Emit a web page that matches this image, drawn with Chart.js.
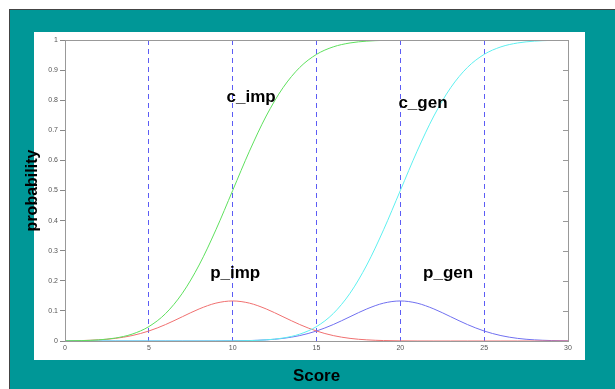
<!DOCTYPE html>
<html>
<head>
<meta charset="utf-8">
<script src="https://cdn.jsdelivr.net/npm/chart.js@4.4.1/dist/chart.umd.min.js"></script>
<style>
    html, body { margin: 0; padding: 0; background: #fff; }
    #frame {
        position: absolute; left: 9px; top: 9px; width: 605px; height: 379px;
        background: #009797; border-top: 1px solid #444; border-left: 1px solid #444;
    }
    #panel {
        position: absolute; left: 34px; top: 32px; width: 551px; height: 328px;
        background: #fff;
    }
    #wrap { position: absolute; left: 0; top: 0; width: 615px; height: 389px; }
</style>
</head>
<body>
<div id="frame"></div>
<div id="panel"></div>
<div id="wrap"><canvas id="chart" width="615" height="389"></canvas></div>
<script>
// Score axis
const scores = [0, 1, 2, 3, 4, 5, 6, 7, 8, 9, 10, 11, 12, 13, 14, 15, 16, 17, 18, 19, 20,
                21, 22, 23, 24, 25, 26, 27, 28, 29, 30];

// cumulative curves
const cImp = [0.0004, 0.0013, 0.0038, 0.0098, 0.0228, 0.0478, 0.0912, 0.1587, 0.2525, 0.3694,
              0.5, 0.6306, 0.7475, 0.8413, 0.9088, 0.9522, 0.9772, 0.9902, 0.9962, 0.9987,
              0.9996, 0.9999, 1, 1, 1, 1, 1, 1, 1, 1, 1];
const cGen = [0, 0, 0, 0, 0, 0, 0, 0, 0, 0.0001,
              0.0004, 0.0013, 0.0038, 0.0098, 0.0228, 0.0478, 0.0912, 0.1587, 0.2525, 0.3694,
              0.5, 0.6306, 0.7475, 0.8413, 0.9088, 0.9522, 0.9772, 0.9902, 0.9962, 0.9987, 0.9996];

// density curves
const pImp = [0.0005, 0.0015, 0.0038, 0.0087, 0.018, 0.0332, 0.0547, 0.0807, 0.1065, 0.1258,
              0.133, 0.1258, 0.1065, 0.0807, 0.0547, 0.0332, 0.018, 0.0087, 0.0038, 0.0015,
              0.0005, 0.0001, 0, 0, 0, 0, 0, 0, 0, 0, 0];
const pGen = [0, 0, 0, 0, 0, 0, 0, 0, 0, 0.0001,
              0.0005, 0.0015, 0.0038, 0.0087, 0.018, 0.0332, 0.0547, 0.0807, 0.1065, 0.1258,
              0.133, 0.1258, 0.1065, 0.0807, 0.0547, 0.0332, 0.018, 0.0087, 0.0038, 0.0015, 0.0005];

const curveNames = ["c_imp", "c_gen", "p_imp", "p_gen"];
const xTicks = [0, 5, 10, 15, 20, 25, 30];
const yTicks = [0, 0.1, 0.2, 0.3, 0.4, 0.5, 0.6, 0.7, 0.8, 0.9, 1];

function toPoints(arr) {
    return scores.map((s, i) => ({ x: s, y: arr[i] }));
}

function curve(label, arr, colour) {
    return {
        label: label,
        data: toPoints(arr),
        borderColor: colour,
        borderWidth: 1,
        pointRadius: 0,
        fill: false,
        cubicInterpolationMode: "monotone",
    };
}

// in-plot text labels, placed in data coordinates
const labelSpots = {
    c_imp: [11.1, 0.81],
    c_gen: [21.35, 0.79],
    p_imp: [10.15, 0.225],
    p_gen: [22.85, 0.225],
};

const decorPlugin = {
    id: "decor",
    afterDatasetsDraw(chart) {
        const { ctx, chartArea: a, scales } = chart;
        ctx.save();
        // box round the axes
        ctx.strokeStyle = "#999";
        ctx.lineWidth = 1;
        ctx.strokeRect(a.left + 0.5, a.top + 0.5, a.right - a.left, a.bottom - a.top);
        // inward ticks on the right
        yTicks.forEach(v => {
            const y = Math.round(scales.y.getPixelForValue(v)) + 0.5;
            ctx.beginPath();
            ctx.moveTo(a.right - 5, y);
            ctx.lineTo(a.right, y);
            ctx.stroke();
        });
        // curve names
        ctx.fillStyle = "#000";
        ctx.font = "bold 17px 'Liberation Sans', Arial, sans-serif";
        ctx.textAlign = "center";
        ctx.textBaseline = "middle";
        curveNames.forEach(n => {
            const [vx, vy] = labelSpots[n];
            ctx.fillText(n, scales.x.getPixelForValue(vx), scales.y.getPixelForValue(vy));
        });
        ctx.restore();
    },
};

const tickFont = { family: "'Liberation Sans', Arial, sans-serif", size: 7 };

new Chart(document.getElementById("chart").getContext("2d"), {
    type: "line",
    data: {
        datasets: [
            curve("c_imp", cImp, "#5ee05e"),
            curve("c_gen", cGen, "#5ef0f0"),
            curve("p_imp", pImp, "#f07070"),
            curve("p_gen", pGen, "#7070f0"),
        ],
    },
    options: {
        responsive: false,
        animation: false,
        layout: { padding: { left: 0, top: 40, right: 47, bottom: 0 } },
        plugins: { legend: { display: false }, tooltip: { enabled: false } },
        scales: {
            x: {
                type: "linear",
                min: 0,
                max: 30,
                afterFit(s) { s.height = 48; },
                afterBuildTicks(s) { s.ticks = xTicks.map(v => ({ value: v })); },
                grid: { color: "#5c5cf5", lineWidth: 1, drawTicks: false },
                border: { color: "#999", dash: [5, 4] },
                ticks: { color: "#555", font: tickFont, padding: 3, maxRotation: 0 },
                title: {
                    display: true,
                    text: "Score",
                    color: "#000",
                    font: { family: "'Liberation Sans', Arial, sans-serif", size: 17, weight: "bold" },
                    padding: { top: 0, bottom: 2 },
                },
            },
            y: {
                min: 0,
                max: 1,
                afterFit(s) { s.width = 65; },
                afterBuildTicks(s) { s.ticks = yTicks.map(v => ({ value: v })); },
                grid: { drawOnChartArea: false, drawTicks: true, tickLength: 5, color: "#888" },
                border: { color: "#999" },
                ticks: {
                    color: "#555",
                    font: tickFont,
                    padding: 2,
                    callback: v => (v === 0 || v === 1) ? String(v) : v.toFixed(1),
                },
                title: {
                    display: true,
                    text: "probability",
                    color: "#000",
                    font: { family: "'Liberation Sans', Arial, sans-serif", size: 16, weight: "bold" },
                    padding: { top: 23, bottom: 0 },
                },
            },
        },
    },
    plugins: [decorPlugin],
});
</script>
</body>
</html>
